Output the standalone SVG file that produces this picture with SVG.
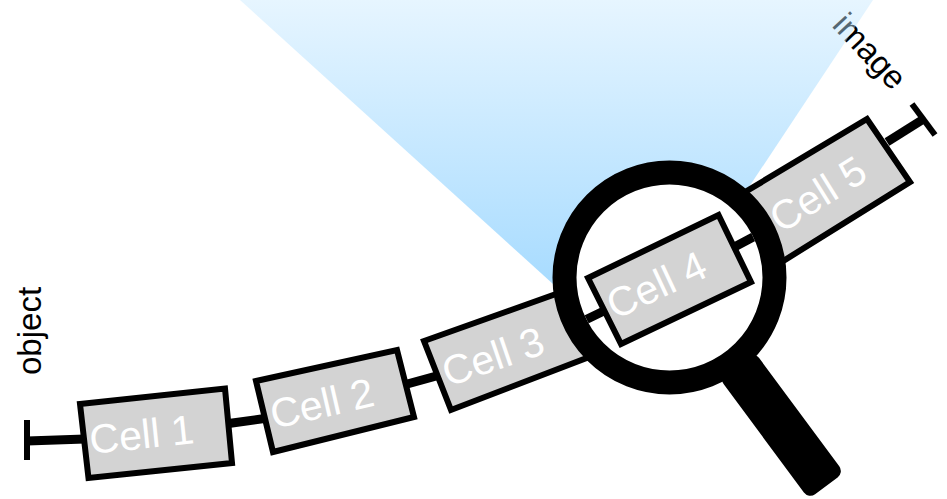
<svg xmlns="http://www.w3.org/2000/svg" width="947" height="499" viewBox="0 0 947 499">
<style>
.cell{fill:#d3d3d3;stroke:#000;stroke-width:6}
.lbl{font-family:"Liberation Sans",Arial,sans-serif;font-size:41px;fill:#fff}
.dark{font-family:"Liberation Sans",Arial,sans-serif;font-size:33px;fill:#000}
.conn{fill:none;stroke:#000;stroke-width:9}
.tick{fill:none;stroke:#000;stroke-width:6}
</style>
<defs>
<linearGradient id="beam" gradientUnits="userSpaceOnUse" x1="0" y1="0" x2="0" y2="290">
<stop offset="0" stop-color="#c8e9ff" stop-opacity="0.45"/>
<stop offset="1" stop-color="#3aafff" stop-opacity="0.45"/>
</linearGradient>
<clipPath id="lens"><circle cx="669.500" cy="277.500" r="93"/></clipPath>
</defs>
<text class="dark" transform="translate(41 375) rotate(-90)">object</text>
<text class="dark" transform="translate(831 26) rotate(47)">image</text>
<polygon id="light-beam" points="240,0 873,0 747,190 660,290 553,284" fill="url(#beam)"/>
<g id="connectors">
<path class="conn" d="M27 441L85 439"/>
<path class="tick" d="M27 420V460"/>
<path class="conn" d="M225 424L268 418"/>
<path class="conn" d="M400 386L440 375"/>
<path class="conn" d="M887 142L922 120"/>
<path class="tick" d="M912 104L935 135"/>
</g>
<g id="cell1"><polygon class="cell" points="80,404 225,388.500 232,463 88.500,478"/><text class="lbl" transform="translate(91 454) rotate(-6)">Cell 1</text></g>
<g id="cell2"><polygon class="cell" points="256,381 397,350 414,417 273,452"/><text class="lbl" transform="translate(274 429) rotate(-13)">Cell 2</text></g>
<g id="cell3"><polygon class="cell" points="424,341 570,289 597,354 451,410"/><text class="lbl" transform="translate(448 387) rotate(-19)">Cell 3</text></g>
<g id="cell5"><polygon class="cell" points="740,195 867,119 910,182 780,263"/><text class="lbl" transform="translate(781 234) rotate(-32)">Cell 5</text></g>
<g id="magnifier">
<rect x="-5" y="-22" width="151" height="44" rx="8" fill="#000" transform="translate(739.500 368.500) rotate(53.500)"/>
<circle cx="669.500" cy="277.500" r="105" fill="#fff" stroke="#000" stroke-width="24"/>
</g>
<path class="conn" clip-path="url(#lens)" d="M575 325L610 308M725 252L770 228"/>
<g id="cell4"><polygon class="cell" points="588,278 718.500,215 751,282 621,344"/><text class="lbl" transform="translate(615 320) rotate(-25)">Cell 4</text></g>
</svg>
